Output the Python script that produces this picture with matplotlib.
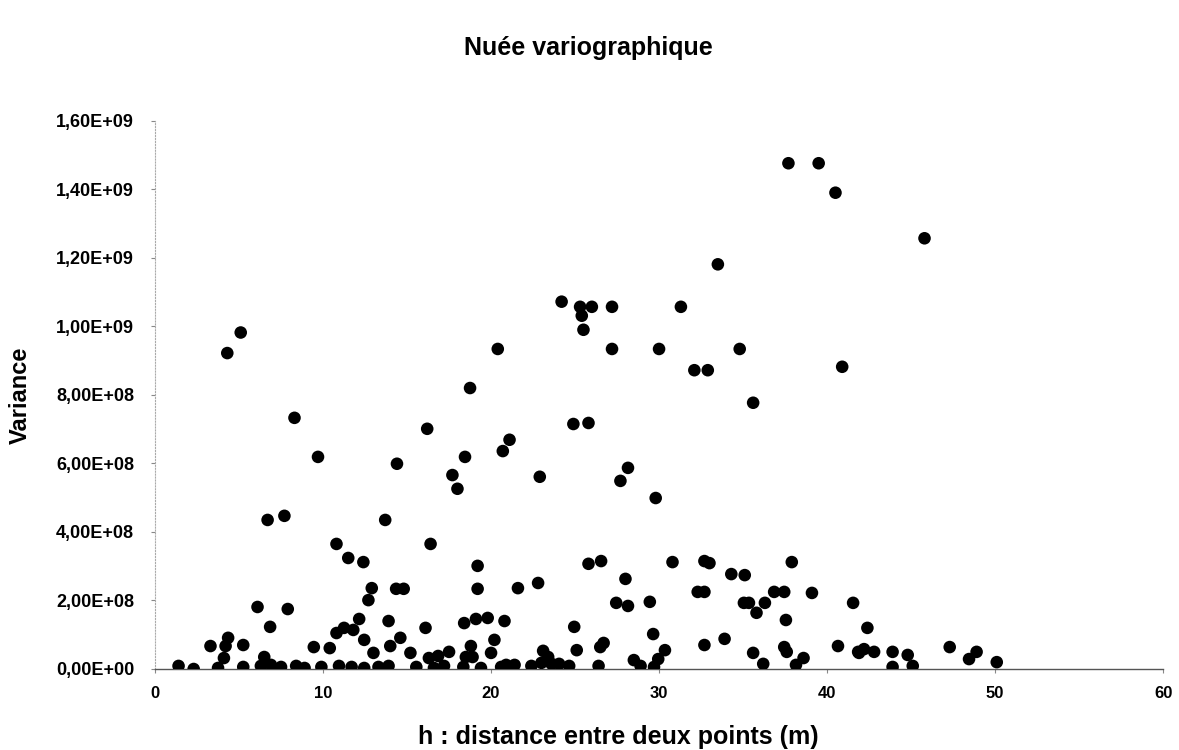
import matplotlib

matplotlib.use("Agg")
import matplotlib.pyplot as plt
from matplotlib.ticker import FuncFormatter, MultipleLocator

# distance h (m) and variance values (units of 1e8)
h_upper = [37.7, 39.5, 40.5, 45.8, 33.5, 24.2, 25.3, 26.0, 27.2, 25.4, 31.3,
           25.5, 5.1, 4.3, 20.4, 27.2, 30.0, 34.8, 32.1, 32.9, 40.9]
v_upper = [14.76, 14.76, 13.90, 12.57, 11.81, 10.72, 10.57, 10.57, 10.57, 10.31, 10.57,
           9.90, 9.82, 9.22, 9.34, 9.34, 9.34, 9.34, 8.72, 8.72, 8.82]

h_mid = [18.75, 8.3, 16.2, 21.1, 20.7, 9.7, 18.45, 14.4, 17.7, 18.0, 22.9,
         6.7, 7.7, 13.7, 10.8, 16.4, 11.5, 12.4, 19.2,
         35.6, 24.9, 25.8, 28.15, 27.7, 29.8, 25.8, 26.55, 30.8, 32.7, 33.0,
         37.9, 34.3, 35.1, 28.0]
v_mid = [8.20, 7.33, 7.01, 6.69, 6.36, 6.19, 6.19, 5.99, 5.66, 5.26, 5.61,
         4.35, 4.47, 4.35, 3.65, 3.65, 3.24, 3.12, 3.01,
         7.77, 7.15, 7.18, 5.87, 5.49, 4.99, 3.07, 3.15, 3.12, 3.15, 3.09,
         3.12, 2.77, 2.74, 2.63]

h_low = [21.6, 22.8, 32.3, 32.7, 36.85, 37.45, 39.1, 27.45, 28.15, 29.45, 35.05,
         35.35, 36.3, 35.8, 41.55, 37.55, 20.8, 24.95, 29.65, 33.9, 32.7, 26.7,
         26.5, 37.45, 37.6, 40.65, 41.85, 25.1, 23.1, 23.4, 30.35, 35.6, 28.5,
         28.9, 29.95, 29.7, 38.6, 38.15, 36.2, 20.9, 21.4, 22.4, 23.0, 23.6,
         24.05, 24.65, 26.4,
         42.4, 42.2, 42.8, 41.9, 43.9, 44.8, 43.9, 45.1, 47.3, 48.9, 48.45, 50.1,
         19.2, 12.9, 12.7, 14.35, 14.8, 6.1, 7.9, 6.85, 12.15, 13.9, 16.1,
         18.4, 19.1, 19.8, 10.8, 11.25, 11.8, 12.45, 14.6, 14.0, 3.3, 4.35,
         4.2, 5.25, 20.2, 9.45, 10.4, 4.1, 6.5, 18.8, 18.9, 13.0, 20.0, 17.5,
         16.85, 16.3, 15.2, 18.5]
v_low = [2.36, 2.51, 2.25, 2.25, 2.25, 2.25, 2.22, 1.93, 1.84, 1.96, 1.93,
         1.93, 1.93, 1.64, 1.93, 1.43, 1.40, 1.23, 1.02, 0.88, 0.70, 0.76,
         0.64, 0.64, 0.50, 0.67, 0.50, 0.55, 0.53, 0.35, 0.55, 0.47, 0.26,
         0.09, 0.29, 0.06, 0.32, 0.12, 0.15, 0.12, 0.12, 0.09, 0.18, 0.15,
         0.15, 0.09, 0.09,
         1.20, 0.58, 0.50, 0.47, 0.50, 0.41, 0.06, 0.09, 0.64, 0.50, 0.29, 0.20,
         2.34, 2.36, 2.01, 2.34, 2.34, 1.81, 1.75, 1.23, 1.46, 1.40, 1.20,
         1.34, 1.46, 1.49, 1.05, 1.20, 1.14, 0.85, 0.91, 0.67, 0.67, 0.91,
         0.67, 0.70, 0.85, 0.64, 0.61, 0.32, 0.35, 0.67, 0.35, 0.47, 0.47, 0.50,
         0.38, 0.32, 0.47, 0.35]

h_base = [1.4, 2.3, 3.75, 5.25, 6.3, 6.9, 7.5, 8.4, 8.9, 9.9, 10.95, 11.7,
          12.45, 13.3, 13.9, 15.55, 16.6, 17.2, 18.35, 19.4, 20.6]
v_base = [0.09, 0.00, 0.03, 0.06, 0.09, 0.12, 0.06, 0.09, 0.03, 0.06, 0.09, 0.06,
          0.03, 0.06, 0.09, 0.06, 0.03, 0.09, 0.06, 0.03, 0.06]

h = h_upper + h_mid + h_low + h_base
v = [x * 1e8 for x in v_upper + v_mid + v_low + v_base]

plt.rcParams["font.family"] = ["Liberation Sans", "DejaVu Sans"]

fig = plt.figure(figsize=(11.79, 7.5), dpi=100)
ax = fig.add_axes([0.1315, 0.108, 0.855, 0.731])
ax.scatter(h, v, s=82, color="black", edgecolors="none", zorder=3)

ax.set_xlim(0, 60)
ax.set_ylim(0, 1.6e9)
ax.xaxis.set_major_locator(MultipleLocator(10))
ax.yaxis.set_major_locator(MultipleLocator(2e8))
ax.yaxis.set_major_formatter(FuncFormatter(lambda y, _: f"{y:.2E}".replace(".", ",")))

for side in ("top", "right"):
    ax.spines[side].set_visible(False)
ax.spines["left"].set_color("#aaaaaa")
ax.spines["left"].set_linestyle(":")
ax.spines["left"].set_linewidth(0.8)
ax.spines["bottom"].set_color("#555555")
ax.spines["bottom"].set_linewidth(1.0)

ax.tick_params(axis="y", length=3, color="#888888", pad=12, labelsize=13)
ax.tick_params(axis="x", length=3, color="#888888", pad=9, labelsize=12)
for lab in ax.get_xticklabels() + ax.get_yticklabels():
    lab.set_fontweight("bold")

fig.text(588 / 1179, 1 - 48 / 750, "Nuée variographique", fontsize=18,
         fontweight="bold", ha="center", va="center")
ax.set_ylabel("Variance", fontsize=17, fontweight="bold")
ax.yaxis.set_label_coords(-0.122, 0.5)
ax.set_xlabel("h : distance entre deux points (m)", fontsize=18, fontweight="bold")
ax.xaxis.set_label_coords(0.46, -0.102)

fig.savefig("out.png", dpi=100)
